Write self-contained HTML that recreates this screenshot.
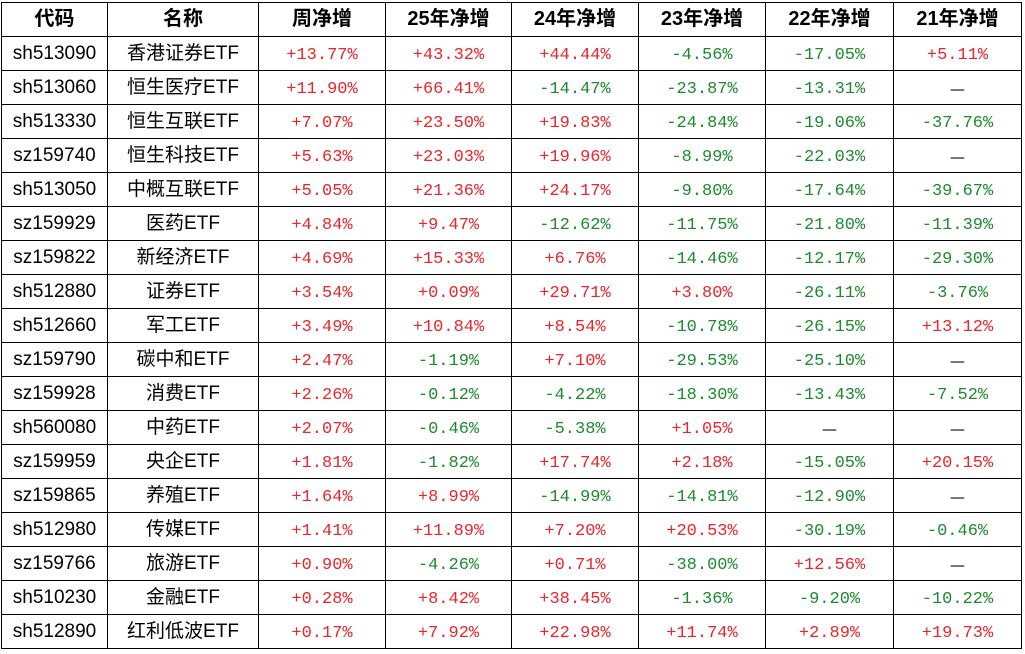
<!DOCTYPE html>
<html><head><meta charset="utf-8"><style>
body{margin:0;background:#fff;width:1025px;height:654px;overflow:hidden}
table{position:absolute;left:1px;top:2px;border-collapse:collapse;table-layout:fixed}
td,th{border:1px solid #000;height:33px;line-height:33px;padding:0;text-align:center;white-space:nowrap;overflow:hidden}
th{font:bold 20px/33px "Liberation Sans","Noto Sans CJK SC",sans-serif;color:#000}
td.c{font:19px/33px "Liberation Sans",sans-serif;color:#000}
td.n{font:19px/33px "Liberation Sans","Noto Sans CJK SC",sans-serif;color:#000}
td.r,td.g{font:17px/33px "Liberation Mono",monospace}
td.r span,td.g span{position:relative;top:2px}
td.d{font:17px/33px "Noto Sans CJK SC",sans-serif;color:#000}
.r{color:#e8262b}.g{color:#1d8a2e}
</style></head><body>
<table>
<colgroup><col style="width:106px"><col style="width:151px"><col style="width:127px"><col style="width:126px"><col style="width:127px"><col style="width:127px"><col style="width:128px"><col style="width:128px"></colgroup>
<tr><th>代码</th><th>名称</th><th>周净增</th><th>25年净增</th><th>24年净增</th><th>23年净增</th><th>22年净增</th><th>21年净增</th></tr>
<tr><td class="c">sh513090</td><td class="n">香港证券ETF</td><td class="r"><span>+13.77%</span></td><td class="r"><span>+43.32%</span></td><td class="r"><span>+44.44%</span></td><td class="g"><span>-4.56%</span></td><td class="g"><span>-17.05%</span></td><td class="r"><span>+5.11%</span></td></tr>
<tr><td class="c">sh513060</td><td class="n">恒生医疗ETF</td><td class="r"><span>+11.90%</span></td><td class="r"><span>+66.41%</span></td><td class="g"><span>-14.47%</span></td><td class="g"><span>-23.87%</span></td><td class="g"><span>-13.31%</span></td><td class="d">—</td></tr>
<tr><td class="c">sh513330</td><td class="n">恒生互联ETF</td><td class="r"><span>+7.07%</span></td><td class="r"><span>+23.50%</span></td><td class="r"><span>+19.83%</span></td><td class="g"><span>-24.84%</span></td><td class="g"><span>-19.06%</span></td><td class="g"><span>-37.76%</span></td></tr>
<tr><td class="c">sz159740</td><td class="n">恒生科技ETF</td><td class="r"><span>+5.63%</span></td><td class="r"><span>+23.03%</span></td><td class="r"><span>+19.96%</span></td><td class="g"><span>-8.99%</span></td><td class="g"><span>-22.03%</span></td><td class="d">—</td></tr>
<tr><td class="c">sh513050</td><td class="n">中概互联ETF</td><td class="r"><span>+5.05%</span></td><td class="r"><span>+21.36%</span></td><td class="r"><span>+24.17%</span></td><td class="g"><span>-9.80%</span></td><td class="g"><span>-17.64%</span></td><td class="g"><span>-39.67%</span></td></tr>
<tr><td class="c">sz159929</td><td class="n">医药ETF</td><td class="r"><span>+4.84%</span></td><td class="r"><span>+9.47%</span></td><td class="g"><span>-12.62%</span></td><td class="g"><span>-11.75%</span></td><td class="g"><span>-21.80%</span></td><td class="g"><span>-11.39%</span></td></tr>
<tr><td class="c">sz159822</td><td class="n">新经济ETF</td><td class="r"><span>+4.69%</span></td><td class="r"><span>+15.33%</span></td><td class="r"><span>+6.76%</span></td><td class="g"><span>-14.46%</span></td><td class="g"><span>-12.17%</span></td><td class="g"><span>-29.30%</span></td></tr>
<tr><td class="c">sh512880</td><td class="n">证券ETF</td><td class="r"><span>+3.54%</span></td><td class="r"><span>+0.09%</span></td><td class="r"><span>+29.71%</span></td><td class="r"><span>+3.80%</span></td><td class="g"><span>-26.11%</span></td><td class="g"><span>-3.76%</span></td></tr>
<tr><td class="c">sh512660</td><td class="n">军工ETF</td><td class="r"><span>+3.49%</span></td><td class="r"><span>+10.84%</span></td><td class="r"><span>+8.54%</span></td><td class="g"><span>-10.78%</span></td><td class="g"><span>-26.15%</span></td><td class="r"><span>+13.12%</span></td></tr>
<tr><td class="c">sz159790</td><td class="n">碳中和ETF</td><td class="r"><span>+2.47%</span></td><td class="g"><span>-1.19%</span></td><td class="r"><span>+7.10%</span></td><td class="g"><span>-29.53%</span></td><td class="g"><span>-25.10%</span></td><td class="d">—</td></tr>
<tr><td class="c">sz159928</td><td class="n">消费ETF</td><td class="r"><span>+2.26%</span></td><td class="g"><span>-0.12%</span></td><td class="g"><span>-4.22%</span></td><td class="g"><span>-18.30%</span></td><td class="g"><span>-13.43%</span></td><td class="g"><span>-7.52%</span></td></tr>
<tr><td class="c">sh560080</td><td class="n">中药ETF</td><td class="r"><span>+2.07%</span></td><td class="g"><span>-0.46%</span></td><td class="g"><span>-5.38%</span></td><td class="r"><span>+1.05%</span></td><td class="d">—</td><td class="d">—</td></tr>
<tr><td class="c">sz159959</td><td class="n">央企ETF</td><td class="r"><span>+1.81%</span></td><td class="g"><span>-1.82%</span></td><td class="r"><span>+17.74%</span></td><td class="r"><span>+2.18%</span></td><td class="g"><span>-15.05%</span></td><td class="r"><span>+20.15%</span></td></tr>
<tr><td class="c">sz159865</td><td class="n">养殖ETF</td><td class="r"><span>+1.64%</span></td><td class="r"><span>+8.99%</span></td><td class="g"><span>-14.99%</span></td><td class="g"><span>-14.81%</span></td><td class="g"><span>-12.90%</span></td><td class="d">—</td></tr>
<tr><td class="c">sh512980</td><td class="n">传媒ETF</td><td class="r"><span>+1.41%</span></td><td class="r"><span>+11.89%</span></td><td class="r"><span>+7.20%</span></td><td class="r"><span>+20.53%</span></td><td class="g"><span>-30.19%</span></td><td class="g"><span>-0.46%</span></td></tr>
<tr><td class="c">sz159766</td><td class="n">旅游ETF</td><td class="r"><span>+0.90%</span></td><td class="g"><span>-4.26%</span></td><td class="r"><span>+0.71%</span></td><td class="g"><span>-38.00%</span></td><td class="r"><span>+12.56%</span></td><td class="d">—</td></tr>
<tr><td class="c">sh510230</td><td class="n">金融ETF</td><td class="r"><span>+0.28%</span></td><td class="r"><span>+8.42%</span></td><td class="r"><span>+38.45%</span></td><td class="g"><span>-1.36%</span></td><td class="g"><span>-9.20%</span></td><td class="g"><span>-10.22%</span></td></tr>
<tr><td class="c">sh512890</td><td class="n">红利低波ETF</td><td class="r"><span>+0.17%</span></td><td class="r"><span>+7.92%</span></td><td class="r"><span>+22.98%</span></td><td class="r"><span>+11.74%</span></td><td class="r"><span>+2.89%</span></td><td class="r"><span>+19.73%</span></td></tr>
</table>
</body></html>
